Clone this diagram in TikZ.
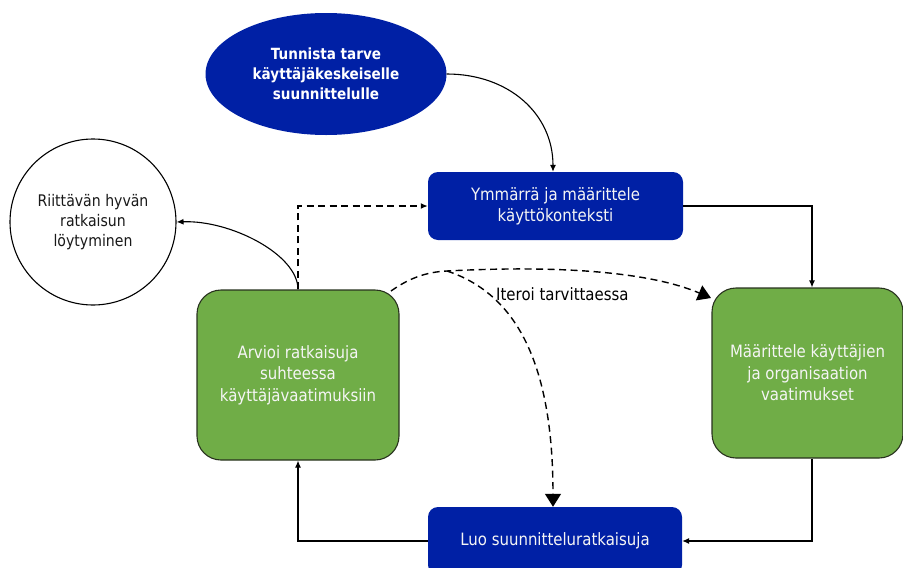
\documentclass[tikz,border=0pt]{standalone}
\usepackage{fontspec}
\setmainfont{DejaVu Sans}[FakeStretch=0.88]
\usetikzlibrary{arrows.meta,shapes.geometric}

\definecolor{deepblue}{RGB}{0,32,165}
\definecolor{leafgreen}{RGB}{112,173,71}
\definecolor{greenedge}{RGB}{40,50,30}
\definecolor{boxtext}{RGB}{245,245,245}

\tikzset{
  bluebox/.style={rectangle, rounded corners=10pt, fill=deepblue, draw=none,
    text=boxtext, align=center, inner sep=0pt,
    font=\fontsize{17}{21}\selectfont},
  greenbox/.style={rectangle, rounded corners=24pt, fill=leafgreen, draw=greenedge,
    line width=1.1pt, text=boxtext, align=center, inner sep=0pt,
    font=\fontsize{17}{21.5}\selectfont},
  startshape/.style={ellipse, fill=deepblue, draw=none, text=white, align=center,
    inner sep=0pt, font=\bfseries\fontsize{15.4}{20}\selectfont},
  goalshape/.style={circle, draw=black, line width=1.1pt, fill=white, align=center,
    inner sep=0pt, text=black!90, font=\fontsize{16}{20}\selectfont},
  flow/.style={draw=black, line width=1.1pt, -{Latex[length=7pt,width=6pt]}},
  iterflow/.style={draw=black, line width=1.4pt, dash pattern=on 7pt off 4.5pt,
    -{Triangle[length=13pt,width=16pt]}},
  shortdash/.style={draw=black, line width=1.4pt, dash pattern=on 7pt off 4.5pt,
    -{Latex[length=7pt,width=6pt]}},
}

\begin{document}
\begin{tikzpicture}[x=1pt,y=-1pt]
  \useasboundingbox (0,0) rectangle (903,568);

  % shapes
  \node[startshape, minimum width=241pt, minimum height=122pt] (need) at (326,74)
    {Tunnista tarve\\käyttäjäkeskeiselle\\suunnittelulle};
  \node[bluebox, minimum width=255pt, minimum height=68pt] (context) at (555.5,206)
    {Ymmärrä ja määrittele\\käyttökonteksti};
  \node[greenbox, minimum width=191pt, minimum height=170pt] (require) at (807.5,373)
    {Määrittele käyttäjien\\ja organisaation\\vaatimukset};
  \node[bluebox, minimum width=254pt, minimum height=68pt] (create) at (555,541)
    {Luo suunnitteluratkaisuja};
  \node[greenbox, minimum width=202pt, minimum height=170pt] (evaluate) at (298,375)
    {Arvioi ratkaisuja\\suhteessa\\käyttäjävaatimuksiin};
  \node[goalshape, minimum size=166pt] (goal) at (93,222)
    {Riittävän hyvän\\ratkaisun\\löytyminen};

  % main cycle
  \draw[flow] (need.east) .. controls +(62,0) and +(0,-58) .. ([xshift=-2.5pt]context.north);
  \draw[flow] (context.east) -| ([xshift=4.5pt]require.north);
  \draw[flow] ([xshift=4.5pt]require.south) |- (create.east);
  \draw[flow] (create.west) -| (evaluate.south);
  \draw[flow] (evaluate.north) .. controls +(0,-35) and +(54,-2) .. (goal.east);

  % iteration paths
  \draw[shortdash] (evaluate.north) |- (context.west);
  \coordinate (iterstart) at (391,291);
  \coordinate (fork) at (447,271);
  \coordinate (reqcorner) at (711,298);
  \draw[iterflow] (iterstart) .. controls (408,279) and (425,272) .. (fork)
    .. controls (560,265) and (650,272) .. (reqcorner);
  \draw[iterflow] (fork) .. controls (520,295) and (553,370) .. ([xshift=-2pt]create.north);
  \node[font=\fontsize{17}{21}\selectfont, text=black, anchor=west, inner sep=0pt]
    (iterlabel) at (496,294) {Iteroi tarvittaessa};
\end{tikzpicture}
\end{document}
